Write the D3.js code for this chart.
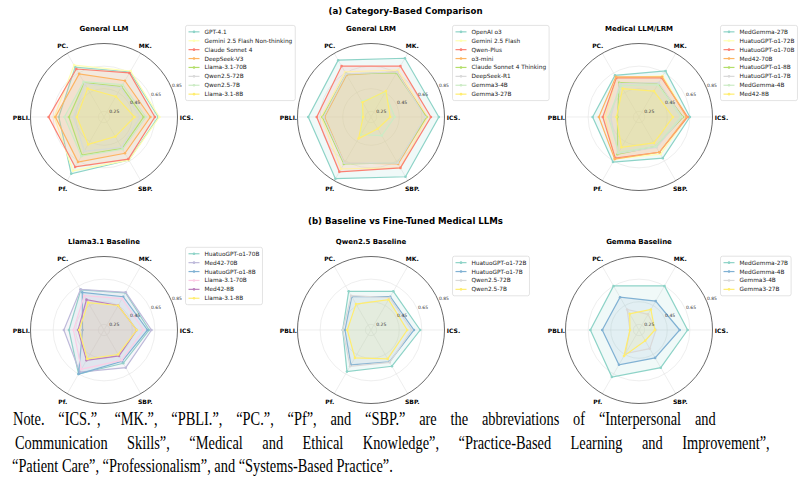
<!DOCTYPE html>
<html>
<head>
<meta charset="utf-8">
<script src="https://cdn.jsdelivr.net/npm/d3@7"></script>
<style>
  body { margin: 0; background: #fff; }
  svg { display: block; font-family: "DejaVu Sans", sans-serif; }
</style>
</head>
<body>
<svg id="chart" width="805" height="485"></svg>
<script>
// axes go counter-clockwise starting at 3 o'clock
const axes = ['ICS.', 'MK.', 'PC.', 'PBLI.', 'Pf.', 'SBP.'];
const radialTicks = [0.25, 0.45, 0.65, 0.85];

// (a) category-based comparison
const generalLLMModels = ['GPT-4.1', 'Gemini 2.5 Flash Non-thinking', 'Claude Sonnet 4', 'DeepSeek-V3',
  'Llama-3.1-70B', 'Qwen2.5-72B', 'Qwen2.5-7B', 'Llama-3.1-8B'];
const generalLLMValues = [
  [0.68, 0.66, 0.71, 0.60, 0.78, 0.64],
  [0.69, 0.67, 0.73, 0.64, 0.75, 0.64],
  [0.65, 0.65, 0.69, 0.69, 0.71, 0.63],
  [0.61, 0.57, 0.64, 0.63, 0.66, 0.57],
  [0.55, 0.51, 0.55, 0.51, 0.59, 0.52],
  [0.52, 0.50, 0.54, 0.47, 0.55, 0.51],
  [0.57, 0.53, 0.56, 0.55, 0.60, 0.53],
  [0.47, 0.41, 0.49, 0.44, 0.48, 0.40]
];

const generalLRMModels = ['OpenAI o3', 'Gemini 2.5 Flash', 'Qwen-Plus', 'o3-mini',
  'Claude Sonnet 4 Thinking', 'DeepSeek-R1', 'Gemma3-4B', 'Gemma3-27B'];
const generalLRMValues = [
  [0.80, 0.80, 0.78, 0.755, 0.83, 0.81],
  [0.70, 0.68, 0.66, 0.64, 0.73, 0.72],
  [0.73, 0.72, 0.72, 0.68, 0.76, 0.72],
  [0.69, 0.66, 0.63, 0.61, 0.67, 0.68],
  [0.69, 0.65, 0.64, 0.63, 0.68, 0.67],
  [0.68, 0.66, 0.64, 0.62, 0.67, 0.67],
  [0.41, 0.45, 0.36, 0.28, 0.38, 0.39],
  [0.37, 0.465, 0.35, 0.27, 0.42, 0.32]
];

const medicalModels = ['MedGemma-27B', 'HuatuoGPT-o1-72B', 'HuatuoGPT-o1-70B', 'Med42-70B',
  'HuatuoGPT-o1-8B', 'HuatuoGPT-o1-7B', 'MedGemma-4B', 'Med42-8B'];
const medicalValues = [
  [0.65, 0.67, 0.625, 0.61, 0.66, 0.62],
  [0.63, 0.62, 0.60, 0.50, 0.63, 0.58],
  [0.63, 0.60, 0.60, 0.52, 0.62, 0.56],
  [0.62, 0.61, 0.61, 0.555, 0.63, 0.56],
  [0.59, 0.54, 0.55, 0.39, 0.58, 0.50],
  [0.58, 0.55, 0.54, 0.45, 0.57, 0.51],
  [0.57, 0.53, 0.52, 0.47, 0.56, 0.50],
  [0.50, 0.465, 0.49, 0.40, 0.51, 0.465]
];

// (b) baseline vs fine-tuned
const llamaModels = ['HuatuoGPT-o1-70B', 'Med42-70B', 'HuatuoGPT-o1-8B', 'Llama-3.1-70B', 'Med42-8B', 'Llama-3.1-8B'];
const llamaValues = [
  [0.60, 0.58, 0.61, 0.51, 0.65, 0.54],
  [0.62, 0.585, 0.615, 0.555, 0.63, 0.585],
  [0.585, 0.54, 0.585, 0.39, 0.65, 0.52],
  [0.55, 0.52, 0.55, 0.47, 0.60, 0.51],
  [0.49, 0.45, 0.51, 0.43, 0.51, 0.465],
  [0.49, 0.45, 0.48, 0.42, 0.495, 0.45]
];

const qwenModels = ['HuatuoGPT-o1-72B', 'HuatuoGPT-o1-7B', 'Qwen2.5-72B', 'Qwen2.5-7B'];
const qwenValues = [
  [0.635, 0.595, 0.595, 0.45, 0.625, 0.57],
  [0.58, 0.54, 0.54, 0.43, 0.555, 0.525],
  [0.56, 0.53, 0.55, 0.45, 0.57, 0.53],
  [0.52, 0.51, 0.465, 0.41, 0.485, 0.495]
];

const gemmaModels = ['MedGemma-27B', 'MedGemma-4B', 'Gemma3-4B', 'Gemma3-27B'];
const gemmaValues = [
  [0.63, 0.65, 0.65, 0.63, 0.68, 0.585],
  [0.56, 0.495, 0.535, 0.525, 0.555, 0.485],
  [0.35, 0.36, 0.41, 0.28, 0.44, 0.39],
  [0.34, 0.41, 0.365, 0.28, 0.465, 0.31]
];

// colours (Set3 picks)
const categoryColors = ['#8dd3c7', '#ffffb3', '#fb8072', '#fdb462', '#b3de69', '#d9d9d9', '#ccebc5', '#ffed6f'];
const llamaColors = ['#8dd3c7', '#bebada', '#80b1d3', '#fccde5', '#bc80bd', '#ffed6f'];
const pairColors = ['#8dd3c7', '#80b1d3', '#d9d9d9', '#ffed6f'];

const noteLines = [
  'Note. “ICS.”, “MK.”, “PBLI.”, “PC.”, “Pf”, and “SBP.” are the abbreviations of “Interpersonal and',
  'Communication Skills”, “Medical and Ethical Knowledge”, “Practice-Based Learning and Improvement”,',
  '“Patient Care”, “Professionalism”, and “Systems-Based Practice”.'
];

const svg = d3.select('#chart');
const R = 73.5;
const r = d3.scaleLinear().domain([0.2, 0.85]).range([0, R]);
const ang = i => Math.PI / 2 - i * Math.PI / 3; // d3 radial angle (clockwise from 12)

const panels = [
  { title: 'General LLM', models: generalLLMModels, values: generalLLMValues, colors: categoryColors, cx: 104, cy: 117 },
  { title: 'General LRM', models: generalLRMModels, values: generalLRMValues, colors: categoryColors, cx: 371, cy: 117 },
  { title: 'Medical LLM/LRM', models: medicalModels, values: medicalValues, colors: categoryColors, cx: 639, cy: 117 },
  { title: 'Llama3.1 Baseline', models: llamaModels, values: llamaValues, colors: llamaColors, cx: 104, cy: 330 },
  { title: 'Qwen2.5 Baseline', models: qwenModels, values: qwenValues, colors: pairColors, cx: 371, cy: 330 },
  { title: 'Gemma Baseline', models: gemmaModels, values: gemmaValues, colors: pairColors, cx: 639, cy: 330 }
];

svg.append('text').attr('x', 405.5).attr('y', 11).attr('text-anchor', 'middle')
  .attr('dominant-baseline', 'central').attr('font-weight', 'bold').attr('font-size', 8.6)
  .text('(a) Category-Based Comparison');
svg.append('text').attr('x', 405.5).attr('y', 221).attr('text-anchor', 'middle')
  .attr('dominant-baseline', 'central').attr('font-weight', 'bold').attr('font-size', 8.6)
  .text('(b) Baseline vs Fine-Tuned Medical LLMs');

const line = d3.lineRadial()
  .angle((d, i) => ang(i))
  .radius(d => r(d))
  .curve(d3.curveLinearClosed);

panels.forEach(p => {
  const g = svg.append('g').attr('transform', `translate(${p.cx},${p.cy})`);

  // grid
  g.selectAll('.ring').data(radialTicks.slice(0, -1)).enter().append('circle')
    .attr('r', d => r(d)).attr('fill', 'none').attr('stroke', '#e3e3e3').attr('stroke-width', 0.6);
  g.selectAll('.spoke').data(axes).enter().append('line')
    .attr('x2', (d, i) => R * Math.sin(ang(i))).attr('y2', (d, i) => -R * Math.cos(ang(i)))
    .attr('stroke', '#e3e3e3').attr('stroke-width', 0.6);

  // series
  p.values.forEach((vals, k) => {
    const c = p.colors[k];
    g.append('path').attr('d', line(vals)).attr('fill', c).attr('fill-opacity', 0.13).attr('stroke', 'none');
    g.append('path').attr('d', line(vals)).attr('fill', 'none').attr('stroke', c).attr('stroke-width', 1.2);
    g.selectAll(null).data(vals).enter().append('circle')
      .attr('cx', (d, i) => r(d) * Math.sin(ang(i)))
      .attr('cy', (d, i) => -r(d) * Math.cos(ang(i)))
      .attr('r', 1.3).attr('fill', c);
  });

  // outer frame
  g.append('circle').attr('r', R).attr('fill', 'none').attr('stroke', '#444').attr('stroke-width', 0.8);

  // radial tick labels at 22.5 deg
  const ra = 22.5 * Math.PI / 180;
  g.selectAll('.rlab').data(radialTicks).enter().append('text')
    .attr('x', d => r(d) * Math.cos(ra))
    .attr('y', d => -r(d) * Math.sin(ra) - 2)
    .attr('font-size', 4.5).attr('fill', '#333')
    .text(d => d3.format('.2f')(d));

  // axis labels
  g.selectAll('.alab').data(axes).enter().append('text')
    .attr('x', (d, i) => (R + 9) * Math.sin(ang(i)))
    .attr('y', (d, i) => -(R + 9) * Math.cos(ang(i)))
    .attr('text-anchor', 'middle').attr('dominant-baseline', 'central')
    .attr('font-size', 6).attr('font-weight', 'bold').text(d => d);

  // title
  g.append('text').attr('y', -88).attr('text-anchor', 'middle').attr('dominant-baseline', 'central')
    .attr('font-size', 7).attr('font-weight', 'bold').text(p.title);

  // legend
  const n = p.models.length;
  const rowH = 8.9;
  const lh = n * rowH + 4;
  const lg = g.append('g').attr('transform', `translate(${R + 8},${-54 - lh / 2})`);
  const box = lg.append('rect').attr('height', lh).attr('rx', 2)
    .attr('fill', '#fff').attr('fill-opacity', 0.8).attr('stroke', '#d0d0d0').attr('stroke-width', 0.6);
  let maxW = 0;
  p.models.forEach((m, k) => {
    const y = 2 + rowH * (k + 0.5);
    lg.append('line').attr('x1', 3).attr('x2', 14).attr('y1', y).attr('y2', y)
      .attr('stroke', p.colors[k]).attr('stroke-width', 1.2);
    lg.append('circle').attr('cx', 8.5).attr('cy', y).attr('r', 1.3).attr('fill', p.colors[k]);
    const t = lg.append('text').attr('x', 19).attr('y', y).attr('dominant-baseline', 'central')
      .attr('font-size', 5.8).attr('fill', '#222').text(m);
    maxW = Math.max(maxW, t.node().getComputedTextLength());
  });
  box.attr('width', maxW + 22);
});

// note under the figure: narrow serif, first two lines justified
const noteX = [13, 15, 12];
const noteRight = [716, 770, 393];
const notes = svg.selectAll('.note').data(noteLines).enter().append('text')
  .attr('font-family', '"Liberation Serif", "Times New Roman", serif')
  .attr('font-size', 18).attr('fill', '#000')
  .text(d => d);
const natural = notes.nodes().map(n => n.getComputedTextLength());
const sx = (noteRight[2] - noteX[2]) / natural[2];
notes.each(function (d, i) {
  const el = d3.select(this);
  if (i < 2) {
    const spaces = d.split(' ').length - 1;
    el.attr('word-spacing', ((noteRight[i] - noteX[i]) / sx - natural[i]) / spaces);
  }
  el.attr('transform', `translate(${noteX[i]},${425 + i * 23.5}) scale(${sx},1)`);
});
</script>
</body>
</html>
